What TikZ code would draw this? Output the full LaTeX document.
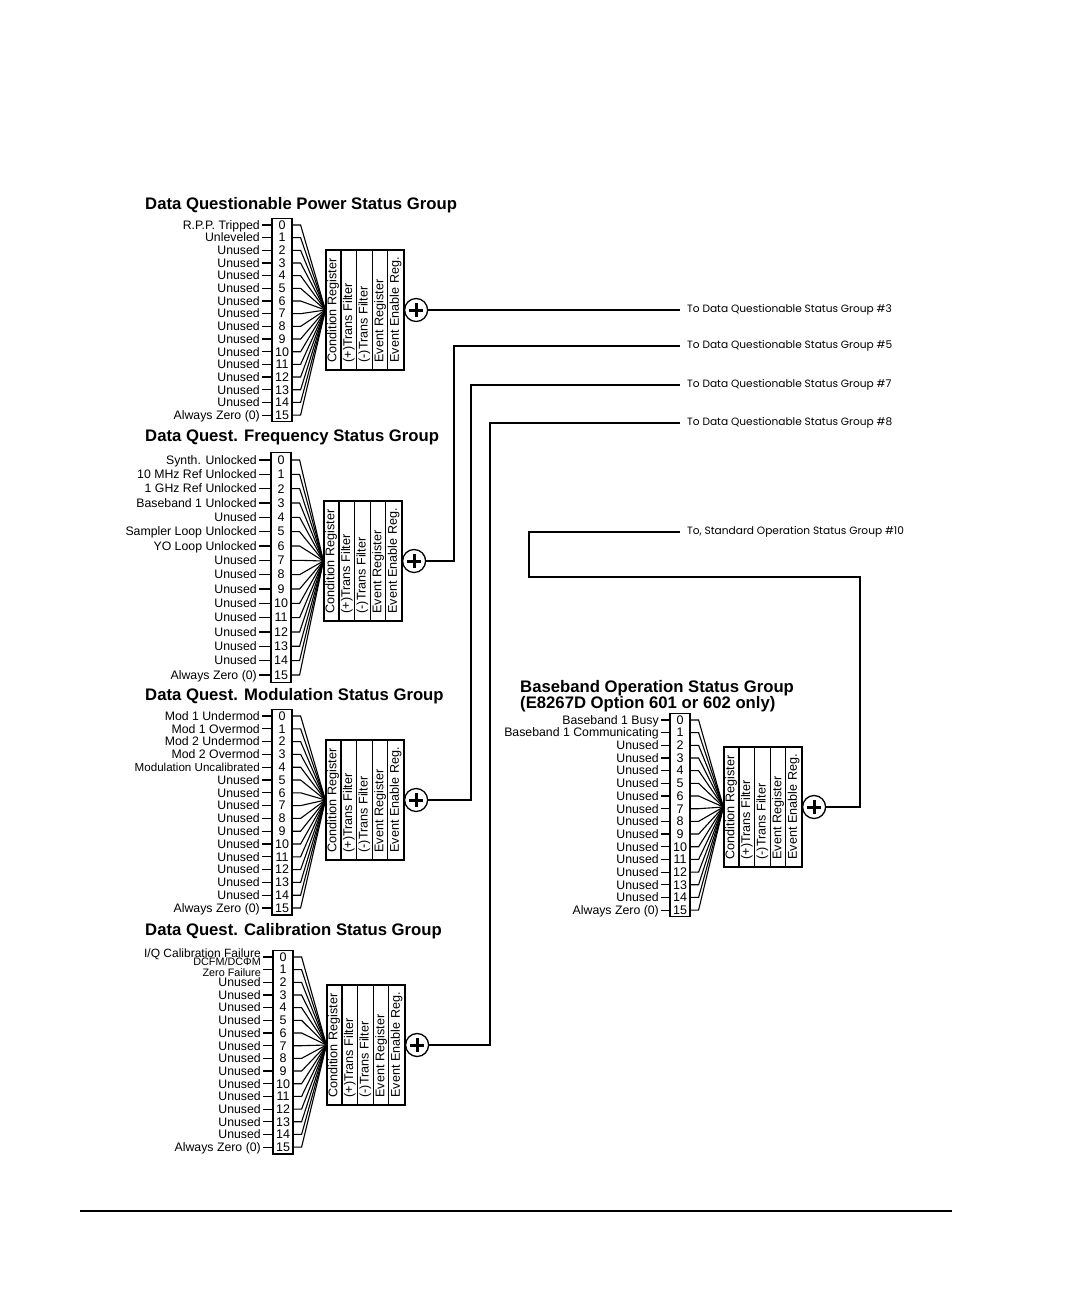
\documentclass[tikz,border=0pt]{standalone}
\usepackage{fontspec}
\setmainfont{Liberation Sans}
\newfontfamily\outfont{Poppins}
\usetikzlibrary{calc}

\tikzset{
  wire/.style={line width=1.1pt},
  bitbox/.style={draw, line width=1.2pt, minimum width=20pt, inner sep=0pt},
  bitnum/.style={font=\fontsize{12.5}{12}\selectfont, inner sep=0pt},
  lab/.style={font=\fontsize{12.3}{11}\selectfont, inner xsep=2pt, inner ysep=0pt, anchor=base east},
  regbox/.style={draw, line width=1.2pt, minimum width=78pt, minimum height=120pt, inner sep=0pt},
  regtxt/.style={rotate=90, anchor=west, font=\fontsize{12.6}{12}\selectfont, inner sep=0pt},
  sumnode/.style={draw, circle, line width=1.3pt, minimum size=23pt, inner sep=0pt, fill=white},
  plus/.style={line width=3pt},
  grptitle/.style={anchor=west, font=\fontsize{16.7}{18}\selectfont\bfseries, inner sep=0pt},
  outlab/.style={anchor=west, font=\outfont\fontsize{10.6}{11}\selectfont, inner xsep=7pt, inner ysep=0pt},
}
\newcommand\smalllab{\fontsize{10.8}{10}\selectfont}

% #1 id, #2 bit box left x, #3 row0 y, #4 row step, #5 tick length,
% #6 register centre x, #7 register centre y, #8 labels
\newcommand\sgroup[8]{%
  \pgfmathsetmacro\sgbx{#2+10}%
  \pgfmathsetmacro\sgby{#3+7.5*#4}%
  \pgfmathsetmacro\sgbh{16*#4+1}%
  \node[bitbox, minimum height=\sgbh pt] (#1box) at (\sgbx,\sgby) {};
  \node[regbox] (#1reg) at (#6,#7) {};
  \foreach \c in {1,...,4}
    \draw[wire] ($(#1reg.north west)+({15.6*\c},0)$) -- ($(#1reg.south west)+({15.6*\c},0)$);
  \node[regtxt] (#1r0) at ($(#1reg.south west)+(7.8,-8)$) {Condition Register};
  \node[regtxt] (#1r1) at ($(#1reg.south west)+(23.4,-8)$) {(+)Trans Filter};
  \node[regtxt] (#1r2) at ($(#1reg.south west)+(39,-8)$) {(-)Trans Filter};
  \node[regtxt] (#1r3) at ($(#1reg.south west)+(54.6,-8)$) {Event Register};
  \node[regtxt] (#1r4) at ($(#1reg.south west)+(70.2,-8)$) {Event Enable Reg.};
  \node[sumnode] (#1sum) at ($(#1reg.east)+(11.5,0)$) {};
  \draw[plus] (#1sum.center) +(-7,0) -- +(7,0) (#1sum.center) +(0,-7) -- +(0,7);
  \foreach \k in {0,...,15}{
    \node[bitnum] (#1b\k) at (\sgbx,{#3+\k*#4}) {\k};
    \draw[wire] (#1b\k.center -| #1box.east) -- ++(8,0) -- (#1reg.west);
  }
  \foreach \sglab [count=\k from 0] in {#8}{
    \node[lab] (#1l\k) at ({#2-#5},{#3+\k*#4+4.3}) {\sglab};
    \draw[wire] (#1l\k.base east |- #1b\k.center) -- (#1box.west |- #1b\k.center);
  }
}

\begin{document}
\begin{tikzpicture}[x=1pt,y=-1pt]
\useasboundingbox (0,0) rectangle (1080,1296);

% ---------- Power group
\node[grptitle] (g1t) at (145,205) {Data Questionable Power Status Group};
\sgroup{g1}{272}{225}{12.67}{10}{365}{310}{R.P.P. Tripped,Unleveled,Unused,Unused,Unused,Unused,Unused,Unused,Unused,Unused,Unused,Unused,Unused,Unused,Unused,{Always Zero (0)}}

% ---------- Frequency group
\node[grptitle] (g2t) at (145,437) {Data Quest. Frequency Status Group};
\sgroup{g2}{271}{460}{14.33}{12}{363}{561}{Synth. Unlocked,10 MHz Ref Unlocked,1 GHz Ref Unlocked,Baseband 1 Unlocked,Unused,Sampler Loop Unlocked,YO Loop Unlocked,Unused,Unused,Unused,Unused,Unused,Unused,Unused,Unused,{Always Zero (0)}}

% ---------- Modulation group
\node[grptitle] (g3t) at (145,696) {Data Quest. Modulation Status Group};
\sgroup{g3}{272}{716}{12.8}{10}{365}{800}{Mod 1 Undermod,Mod 1 Overmod,Mod 2 Undermod,Mod 2 Overmod,{\fontsize{11.6}{11}\selectfont Modulation Uncalibrated},Unused,Unused,Unused,Unused,Unused,Unused,Unused,Unused,Unused,Unused,{Always Zero (0)}}

% ---------- Calibration group
\node[grptitle] (g4t) at (145,931) {Data Quest. Calibration Status Group};
\sgroup{g4}{273}{957}{12.67}{10}{366}{1045}{{\fontsize{12}{11}\selectfont\raisebox{3.5pt}{I/Q Calibration Failure}},{\smalllab\raisebox{-2.5pt}{\shortstack[r]{DCFM/DC\char"03A6 M\\Zero Failure}}},Unused,Unused,Unused,Unused,Unused,Unused,Unused,Unused,Unused,Unused,Unused,Unused,Unused,{Always Zero (0)}}

% ---------- Baseband group
\node[grptitle] (g5t) at (520,688) {Baseband Operation Status Group};
\node[grptitle] (g5u) at (520,704) {(E8267D Option 601 or 602 only)};
\sgroup{g5}{670}{720}{12.67}{9}{763}{807}{Baseband 1 Busy,Baseband 1 Communicating,Unused,Unused,Unused,Unused,Unused,Unused,Unused,Unused,Unused,Unused,Unused,Unused,Unused,{Always Zero (0)}}

% ---------- outputs
\node[outlab] (o3) at (680,310) {To Data Questionable Status Group \#3};
\node[outlab] (o5) at (680,346) {To Data Questionable Status Group \#5};
\node[outlab] (o7) at (680,385) {To Data Questionable Status Group \#7};
\node[outlab] (o8) at (680,423) {To Data Questionable Status Group \#8};
\node[outlab] (o10) at (680,532) {To, Standard Operation Status Group \#10};

\coordinate (k2) at (454,346);
\coordinate (k3) at (471,385);
\coordinate (k4) at (490,423);
\coordinate (k5a) at (860,577);
\coordinate (k5b) at (529,532);

\draw[wire] (g1sum.east) -- (g1sum.east -| o3.west);
\draw[wire] (g2sum.east) -| (k2) -- (o5.west);
\draw[wire] (g3sum.east) -| (k3) -- (o7.west);
\draw[wire] (g4sum.east) -| (k4) -- (o8.west);
\draw[wire] (g5sum.east) -| (k5a) -| (k5b) -- (o10.west);

% bottom rule
\draw[line width=1.5pt] (80,1211) -- (952,1211);
\end{tikzpicture}
\end{document}
